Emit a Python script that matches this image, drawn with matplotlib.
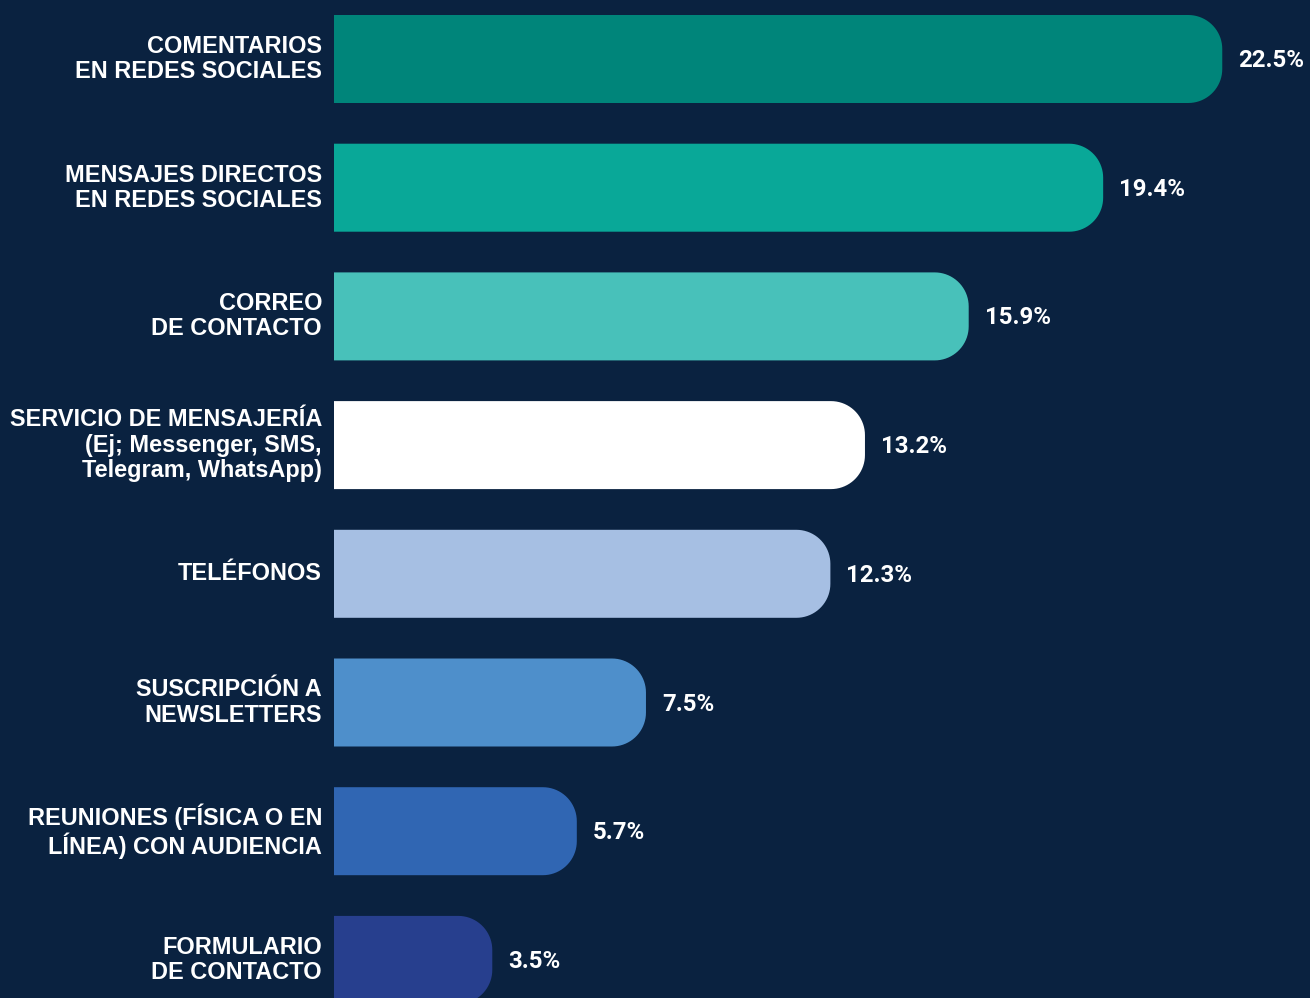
import numpy as np
import matplotlib.pyplot as plt
from matplotlib import font_manager
from matplotlib.patches import Polygon

categorias = [
    "COMENTARIOS\nEN REDES SOCIALES",
    "MENSAJES DIRECTOS\nEN REDES SOCIALES",
    "CORREO\nDE CONTACTO",
    "SERVICIO DE MENSAJERÍA\n(Ej; Messenger, SMS,\nTelegram, WhatsApp)",
    "TELÉFONOS",
    "SUSCRIPCIÓN A\nNEWSLETTERS",
    "REUNIONES (FÍSICA O EN\nLÍNEA) CON AUDIENCIA",
    "FORMULARIO\nDE CONTACTO",
]
porcentajes = [22.5, 19.4, 15.9, 13.2, 12.3, 7.5, 5.7, 3.5]
colores = ["#00857a", "#09a898", "#48c1ba", "#ffffff",
           "#a6bfe3", "#4e8fcb", "#3066b3", "#273f8e"]

# regular-width Liberation Sans Bold (not the Narrow cut)
negrita = None
for f in font_manager.findSystemFonts():
    if f.endswith("LiberationSans-Bold.ttf"):
        negrita = font_manager.FontProperties(fname=f, size=16.9)
        break
if negrita is None:
    negrita = font_manager.FontProperties(family="DejaVu Sans", weight="bold", size=15.5)

fondo = "#0a2240"
W, H = 1310, 998
fig = plt.figure(figsize=(W / 100, H / 100), dpi=100, facecolor=fondo)

ax_left = 334
ax = fig.add_axes([ax_left / W, 0, (W - ax_left) / W, 1])
ax.set_facecolor(fondo)

px_x = 38.42          # pixels per percentage point
base = -0.62          # bars start at the left edge of the axes
x_max = base + (W - ax_left) / px_x
pitch = 128.7         # pixels between bar centres
ax.set_xlim(base, x_max)
ax.set_ylim((H - 59) / pitch, -59 / pitch)
ax.axis("off")

alto = 88 / pitch
rx = 34 / px_x
ry = 34 / pitch
t = np.linspace(0, np.pi / 2, 20)


def barra(v, yc):
    # square left end, rounded right corners
    y0, y1 = yc - alto / 2, yc + alto / 2
    xc = v - rx
    abajo = np.column_stack([xc + rx * np.sin(t), y0 + ry - ry * np.cos(t)])
    arriba = np.column_stack([xc + rx * np.cos(t), y1 - ry + ry * np.sin(t)])
    return np.vstack([[base, y0], abajo, arriba, [base, y1]])


for i, (v, c) in enumerate(zip(porcentajes, colores)):
    ax.add_patch(Polygon(barra(v, i), closed=True, facecolor=c,
                         edgecolor="none"))
    ax.text(v + 16 / px_x, i + 0.012, f"{v}%", color="white", fontsize=17.3,
            fontweight="bold", family=["Roboto", "DejaVu Sans"],
            ha="left", va="center")

for i, cat in enumerate(categorias):
    fig.text(322 / W, 1 - (59 + i * pitch) / H, cat, color="white",
             fontproperties=negrita, ha="right", va="center",
             multialignment="right", linespacing=1.12)

fig.savefig("out.png", dpi=100, facecolor=fondo)
